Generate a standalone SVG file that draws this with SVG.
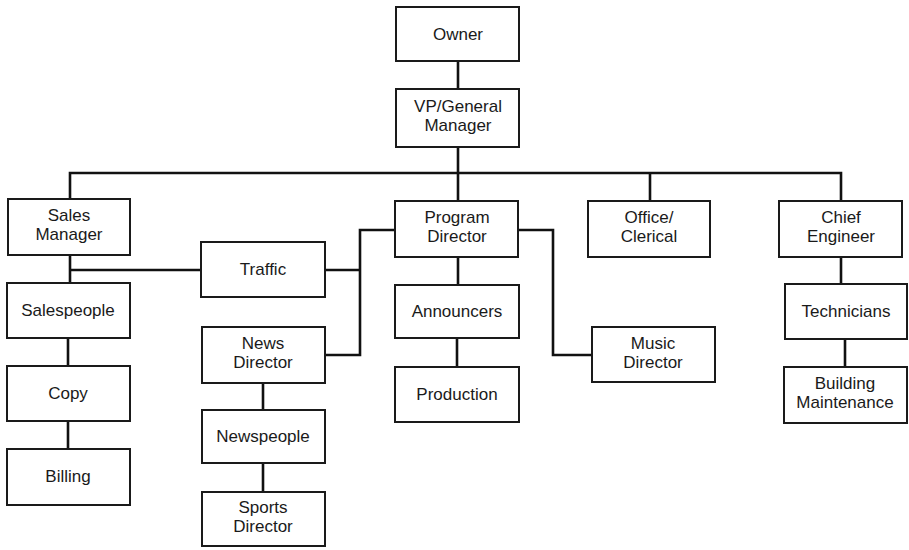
<svg xmlns="http://www.w3.org/2000/svg" width="909" height="550" viewBox="0 0 909 550">
<style>
.box{fill:#fff;stroke:#1a1a1a;stroke-width:2}
.t{font-family:"Liberation Sans",Arial,sans-serif;font-size:17px;fill:#1a1a1a;text-anchor:middle}
.c{fill:none;stroke:#111;stroke-width:2.6}
</style>
<rect width="909" height="550" fill="#fff"/>
<g id="connectors">
<path class="c" d="M458 61V89"/>
<path class="c" d="M458 147V201"/>
<path class="c" d="M70 199V173H841V201"/>
<path class="c" d="M650 173V201"/>
<path class="c" d="M70 255V283"/>
<path class="c" d="M70 270H201"/>
<path class="c" d="M325 270H360"/>
<path class="c" d="M395 230H360V355H325"/>
<path class="c" d="M518 230H553V355H592"/>
<path class="c" d="M458 257V285"/>
<path class="c" d="M457 338V367"/>
<path class="c" d="M68 338V366"/>
<path class="c" d="M68 421V449"/>
<path class="c" d="M263 383V410"/>
<path class="c" d="M263 463V492"/>
<path class="c" d="M841 257V284"/>
<path class="c" d="M845 339V367"/>
</g>
<g id="owner"><rect class="box" x="396" y="7" width="123" height="54"/><text class="t" x="458" y="40">Owner</text></g>
<g id="vp"><rect class="box" x="396" y="89" width="123" height="58"/><text class="t" x="458" y="112">VP/General</text><text class="t" x="458" y="131">Manager</text></g>
<g id="sales-manager"><rect class="box" x="8" y="199" width="122" height="56"/><text class="t" x="69" y="221">Sales</text><text class="t" x="69" y="240">Manager</text></g>
<g id="program-director"><rect class="box" x="395" y="201" width="123" height="56"/><text class="t" x="457" y="223">Program</text><text class="t" x="457" y="242">Director</text></g>
<g id="office-clerical"><rect class="box" x="588" y="201" width="122" height="56"/><text class="t" x="649" y="223">Office/</text><text class="t" x="649" y="242">Clerical</text></g>
<g id="chief-engineer"><rect class="box" x="779" y="201" width="123" height="56"/><text class="t" x="841" y="223">Chief</text><text class="t" x="841" y="242">Engineer</text></g>
<g id="traffic"><rect class="box" x="201" y="242" width="124" height="55"/><text class="t" x="263" y="275">Traffic</text></g>
<g id="salespeople"><rect class="box" x="7" y="283" width="123" height="55"/><text class="t" x="68" y="316">Salespeople</text></g>
<g id="copy"><rect class="box" x="7" y="366" width="123" height="55"/><text class="t" x="68" y="399">Copy</text></g>
<g id="billing"><rect class="box" x="7" y="449" width="123" height="56"/><text class="t" x="68" y="482">Billing</text></g>
<g id="announcers"><rect class="box" x="395" y="285" width="124" height="53"/><text class="t" x="457" y="317">Announcers</text></g>
<g id="production"><rect class="box" x="395" y="367" width="124" height="55"/><text class="t" x="457" y="400">Production</text></g>
<g id="news-director"><rect class="box" x="202" y="327" width="123" height="56"/><text class="t" x="263" y="349">News</text><text class="t" x="263" y="368">Director</text></g>
<g id="newspeople"><rect class="box" x="202" y="410" width="123" height="53"/><text class="t" x="263" y="442">Newspeople</text></g>
<g id="sports-director"><rect class="box" x="202" y="492" width="123" height="54"/><text class="t" x="263" y="513">Sports</text><text class="t" x="263" y="532">Director</text></g>
<g id="music-director"><rect class="box" x="592" y="327" width="123" height="55"/><text class="t" x="653" y="349">Music</text><text class="t" x="653" y="368">Director</text></g>
<g id="technicians"><rect class="box" x="785" y="284" width="122" height="55"/><text class="t" x="846" y="317">Technicians</text></g>
<g id="building-maintenance"><rect class="box" x="784" y="367" width="123" height="56"/><text class="t" x="845" y="389">Building</text><text class="t" x="845" y="408">Maintenance</text></g>
</svg>
